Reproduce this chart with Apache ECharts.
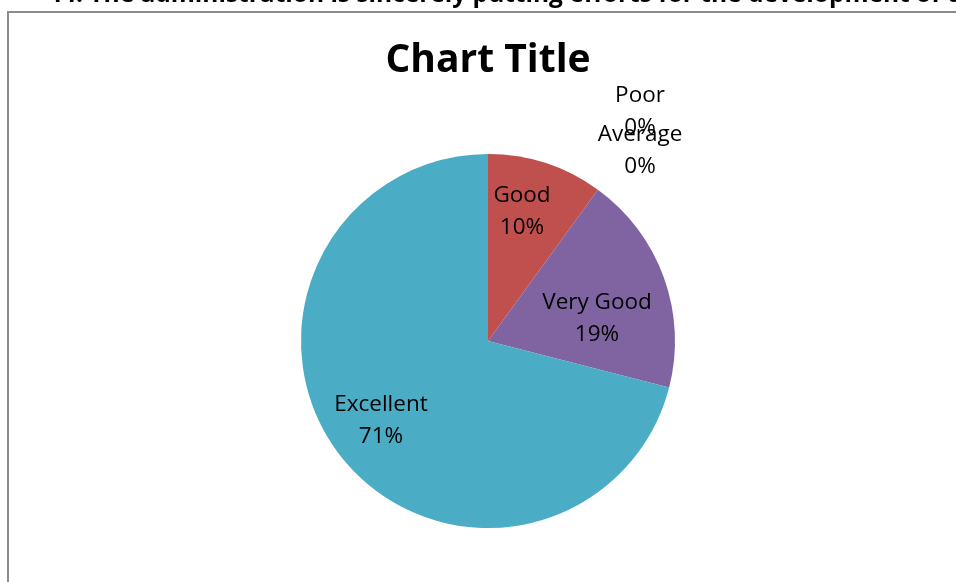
<!DOCTYPE html>
<html>
<head>
<meta charset="utf-8">
<style>
  html, body { margin: 0; padding: 0; background: #ffffff; }
  #chart { width: 956px; height: 582px; }
</style>
<script src="https://cdn.jsdelivr.net/npm/echarts@6/dist/echarts.min.js"></script>
</head>
<body>
<div id="chart"></div>
<script>
// Ratings and their shares (percent), in the order the slices run clockwise from 12 o'clock
const categories = ['Poor', 'Good', 'Average', 'Very Good', 'Excellent'];
const shares = [0, 10, 0, 19, 71];
const sliceColors = ['#4F81BD', '#C0504D', '#9BBB59', '#8064A2', '#4BACC6'];

const heading = '44. The administration is sincerely putting efforts for the development of the institution';
const chartTitle = 'Chart Title';

// Where each data label sits (label centre, in pixels)
const labelSpots = {
  'Poor': [640, 112],
  'Average': [640, 151],
  'Good': [522, 212],
  'Very Good': [597, 319],
  'Excellent': [381, 421]
};

const chart = echarts.init(document.getElementById('chart'), null, { renderer: 'canvas' });

chart.setOption({
  backgroundColor: '#ffffff',
  animation: false,
  title: {
    text: chartTitle,
    left: 483,
    top: 36,
    textAlign: 'center',
    textStyle: {
      fontFamily: 'Open Sans',
      fontWeight: 'bold',
      fontSize: 39,
      color: '#000000'
    }
  },
  graphic: [
    {
      type: 'rect',
      shape: { x: 8, y: 12, width: 1000, height: 700 },
      style: { fill: 'none', stroke: '#8c8c8c', lineWidth: 2 },
      silent: true
    },
    {
      type: 'text',
      left: 48,
      top: -17,
      style: {
        text: heading,
        fontFamily: 'Open Sans',
        fontWeight: 'bold',
        fontSize: 24.5,
        fill: '#000000'
      },
      silent: true
    }
  ],
  series: [
    {
      type: 'pie',
      center: [488, 341],
      radius: 187,
      startAngle: 90,
      clockwise: true,
      avoidLabelOverlap: false,
      percentPrecision: 0,
      itemStyle: { borderWidth: 0 },
      label: {
        show: true,
        position: 'inside',
        formatter: '{b}\n{d}%',
        fontFamily: 'Open Sans',
        fontSize: 22.5,
        lineHeight: 32,
        color: '#000000',
        align: 'center'
      },
      labelLine: { show: false },
      labelLayout: function (params) {
        const name = categories[params.dataIndex];
        const spot = labelSpots[name];
        return { x: spot[0], y: spot[1], align: 'center', verticalAlign: 'middle' };
      },
      emphasis: { disabled: true },
      data: categories.map(function (name, i) {
        return { name: name, value: shares[i], itemStyle: { color: sliceColors[i] } };
      })
    }
  ]
});
</script>
</body>
</html>
